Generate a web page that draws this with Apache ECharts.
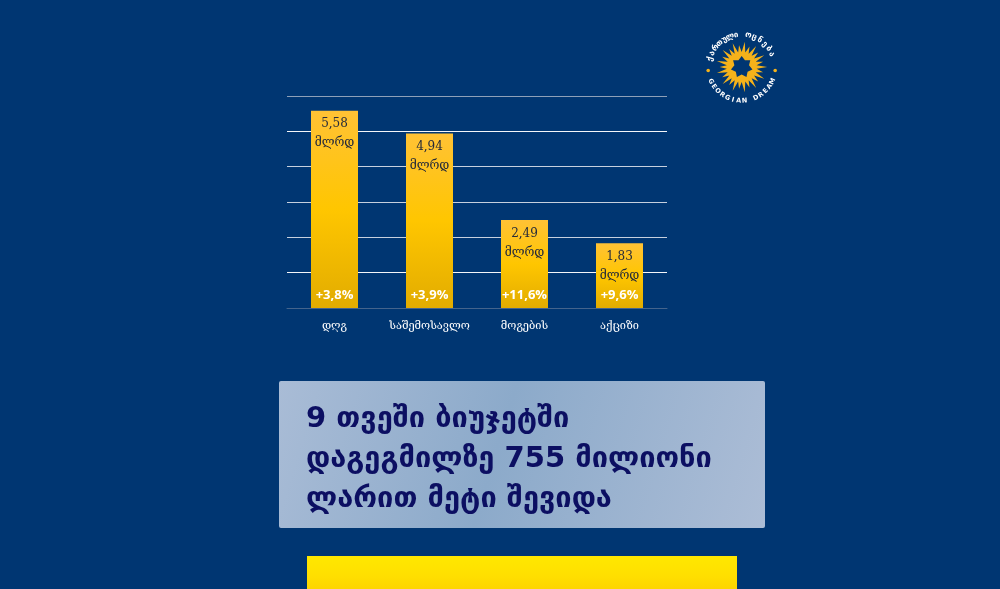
<!DOCTYPE html>
<html><head><meta charset="utf-8">
<style>html,body{margin:0;padding:0;background:#003672;overflow:hidden}#c{width:1000px;height:589px}</style>
<script src="https://cdn.jsdelivr.net/npm/echarts@6/dist/echarts.min.js"></script></head>
<body><div id="c"></div>
<script>
const categories = ['დღგ','საშემოსავლო','მოგების','აქციზი'];
const billions = [5.58,4.94,2.49,1.83];
const valueLabels = ['5,58','4,94','2,49','1,83'];
const growthLabels = ['+3,8%','+3,9%','+11,6%','+9,6%'];
const unitLabel = 'მლრდ';
const headlineLines = ['9 თვეში ბიუჯეტში','დაგეგმილზე 755 მილიონი','ლარით მეტი შევიდა'];
const logoTop = 'ქართული ოცნება';
const logoBottom = 'GEORGIAN DREAM';

const chart = echarts.init(document.getElementById('c'), null, {renderer:'canvas'});

// decorative logo
const cx = 741.7, cy = 67;
function sunPoints(){
  const pts=[]; const n=52;
  for(let i=0;i<n;i++){
    const a=i/n*Math.PI*2;
    const r=(i%2===1)?15:(i%4===0?25.5:22);
    pts.push([cx+r*Math.cos(a),cy+r*Math.sin(a)]);
  }
  return pts;
}
function starPoints(){
  const pts=[];
  for(let i=0;i<14;i++){
    const a=i/14*Math.PI*2-Math.PI/2;
    const r=i%2===0?11:7.5;
    pts.push([cx+r*Math.cos(a),cy+r*Math.sin(a)]);
  }
  return pts;
}
function arcText(str,radius,startDeg,stepDeg,isBottom,size){
  return Array.from(str).map((ch,i)=>{
    const deg=startDeg+i*stepDeg, a=deg*Math.PI/180;
    return {type:'text',x:cx+radius*Math.cos(a),y:cy+radius*Math.sin(a),
      rotation:isBottom?-(a-Math.PI/2):-(a+Math.PI/2),
      style:{text:ch,fill:'#fff',font:'bold '+size+'px "DejaVu Sans"',align:'center',verticalAlign:'middle'},silent:true};
  });
}
const graphics = [
  {type:'polygon',shape:{points:sunPoints()},style:{fill:'#f5b21a'},silent:true},
  {type:'polygon',shape:{points:starPoints()},style:{fill:'#003672'},silent:true},
  {type:'circle',shape:{cx:cx-33.5,cy:cy+3.5,r:1.8},style:{fill:'#f5b21a'},silent:true},
  {type:'circle',shape:{cx:cx+33.5,cy:cy+3.5,r:1.8},style:{fill:'#f5b21a'},silent:true},
  ...arcText(logoTop,32.5,-166,11,false,8),
  ...arcText(logoBottom,34,155,-10,true,6.5),
  {type:'rect',shape:{x:279,y:381,width:486,height:147,r:2},
    style:{fill:new echarts.graphic.LinearGradient(0,0,1,1,[
      {offset:0,color:'#a9bcd6'},{offset:.45,color:'#8caaca'},{offset:1,color:'#acbdd6'}])},silent:true},
  ...headlineLines.map((t,i)=>({type:'text',x:306,y:419+i*40,
    style:{text:t,fill:'#0c0f62',font:'bold 29px "DejaVu Sans"',align:'left',verticalAlign:'middle'},silent:true})),
  {type:'rect',shape:{x:307,y:556,width:430,height:33},
    style:{fill:new echarts.graphic.LinearGradient(0,0,0,1,[
      {offset:0,color:'#ffe800'},{offset:.6,color:'#ffdf00'},{offset:1,color:'#fdd500'}])},silent:true}
];

const barFill = new echarts.graphic.LinearGradient(0,0,0,1,[
  {offset:0,color:'#ffc235'},{offset:.5,color:'#ffc600'},{offset:1,color:'#e2ac00'}]);

chart.setOption({
  animation:false,
  backgroundColor:'#003672',
  grid:{left:287,top:96,width:380,height:212},
  xAxis:{type:'category',data:categories,
    axisLine:{show:true,lineStyle:{color:'#44648c',width:1}},axisTick:{show:false},
    axisLabel:{color:'#fff',fontFamily:'"DejaVu Serif"',fontSize:11,margin:13,interval:0,hideOverlap:false}},
  yAxis:{type:'value',min:0,max:6,interval:1,
    axisLine:{show:false},axisTick:{show:false},axisLabel:{show:false},
    splitLine:{show:true,lineStyle:{color:['#44648c','#f4f6f9','#c6d0de','#c6d0de','#c6d0de','#f4f6f9','#8ea0b8'],width:1}}},
  series:[
    {type:'bar',data:billions,barWidth:47,barGap:'-100%',z:2,
      itemStyle:{color:barFill},
      label:{show:true,position:'insideTop',distance:4,color:'#262b3a',fontFamily:'"DejaVu Serif"',fontSize:12,lineHeight:19,
        formatter:p=>valueLabels[p.dataIndex]+'\n'+unitLabel}},
    {type:'bar',data:billions,barWidth:47,z:3,
      itemStyle:{color:'transparent'},
      label:{show:true,position:'insideBottom',distance:6,color:'#fff',fontWeight:'bold',fontFamily:'"Open Sans"',fontSize:13,
        formatter:p=>growthLabels[p.dataIndex]}}
  ],
  graphic:graphics
});
</script></body></html>
